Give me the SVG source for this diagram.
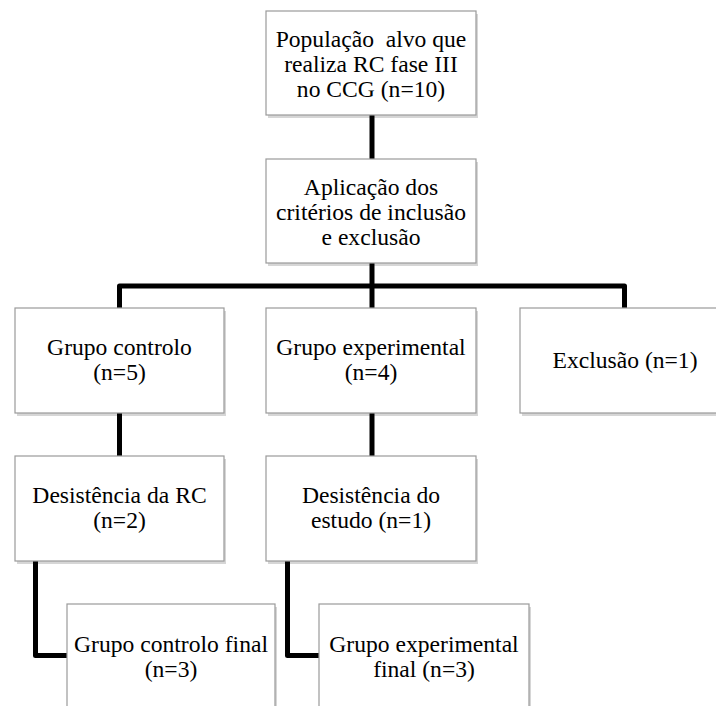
<svg xmlns="http://www.w3.org/2000/svg" width="716" height="706" viewBox="0 0 716 706">
<style>
.sh{fill:#000;fill-opacity:0.16}
.box{fill:#ffffff;stroke:#9a9a9a;stroke-width:1.2}
.c{fill:none;stroke:#000;stroke-width:5;stroke-linejoin:round}
</style>
<rect width="716" height="706" fill="#fff"/>
<g id="connectors">
<path class="c" d="M372,115 V159"/>
<path class="c" d="M372,263 V308"/>
<path class="c" d="M119.5,308 V286 H624.5 V308"/>
<path class="c" d="M119.5,413 V456"/>
<path class="c" d="M372,413 V456"/>
<path class="c" d="M35.5,561 V655.5 H67"/>
<path class="c" d="M287.5,561 V655.5 H319"/>
</g>
<g id="n1"><rect class="sh" x="268" y="14" width="210" height="104"/><rect class="box" x="266" y="11" width="210" height="104"/>
<text x="371" y="47" font-family="Liberation Serif" font-size="23.6" text-anchor="middle" xml:space="preserve">População  alvo que</text>
<text x="371" y="72" font-family="Liberation Serif" font-size="23.6" text-anchor="middle">realiza RC fase III</text>
<text x="371" y="97" font-family="Liberation Serif" font-size="23.6" text-anchor="middle">no CCG (n=10)</text></g>
<g id="n2"><rect class="sh" x="268" y="162" width="210" height="104"/><rect class="box" x="266" y="159" width="210" height="104"/>
<text x="371" y="195" font-family="Liberation Serif" font-size="23.6" text-anchor="middle">Aplicação dos</text>
<text x="371" y="220" font-family="Liberation Serif" font-size="23.6" text-anchor="middle">critérios de inclusão</text>
<text x="371" y="245" font-family="Liberation Serif" font-size="23.6" text-anchor="middle">e exclusão</text></g>
<g id="n3"><rect class="sh" x="17" y="311" width="209" height="105"/><rect class="box" x="15" y="308" width="209" height="105"/>
<text x="119.5" y="355" font-family="Liberation Serif" font-size="23.6" text-anchor="middle">Grupo controlo</text>
<text x="119.5" y="380" font-family="Liberation Serif" font-size="23.6" text-anchor="middle">(n=5)</text></g>
<g id="n4"><rect class="sh" x="268" y="311" width="210" height="105"/><rect class="box" x="266" y="308" width="210" height="105"/>
<text x="371" y="355" font-family="Liberation Serif" font-size="23.6" text-anchor="middle">Grupo experimental</text>
<text x="371" y="380" font-family="Liberation Serif" font-size="23.6" text-anchor="middle">(n=4)</text></g>
<g id="n5"><rect class="sh" x="522" y="311" width="210" height="105"/><rect class="box" x="520" y="308" width="210" height="105"/>
<text x="625" y="368" font-family="Liberation Serif" font-size="23.6" text-anchor="middle">Exclusão (n=1)</text></g>
<g id="n6"><rect class="sh" x="17" y="459" width="209" height="105"/><rect class="box" x="15" y="456" width="209" height="105"/>
<text x="119.5" y="503" font-family="Liberation Serif" font-size="23.6" text-anchor="middle">Desistência da RC</text>
<text x="119.5" y="528" font-family="Liberation Serif" font-size="23.6" text-anchor="middle">(n=2)</text></g>
<g id="n7"><rect class="sh" x="268" y="459" width="210" height="105"/><rect class="box" x="266" y="456" width="210" height="105"/>
<text x="371" y="503" font-family="Liberation Serif" font-size="23.6" text-anchor="middle">Desistência do</text>
<text x="371" y="528" font-family="Liberation Serif" font-size="23.6" text-anchor="middle">estudo (n=1)</text></g>
<g id="n8"><rect class="sh" x="69" y="607" width="208" height="120"/><rect class="box" x="67" y="604" width="208" height="120"/>
<text x="171" y="652" font-family="Liberation Serif" font-size="23.6" text-anchor="middle">Grupo controlo final</text>
<text x="171" y="677" font-family="Liberation Serif" font-size="23.6" text-anchor="middle">(n=3)</text></g>
<g id="n9"><rect class="sh" x="321" y="607" width="210" height="120"/><rect class="box" x="319" y="604" width="210" height="120"/>
<text x="424" y="652" font-family="Liberation Serif" font-size="23.6" text-anchor="middle">Grupo experimental</text>
<text x="424" y="677" font-family="Liberation Serif" font-size="23.6" text-anchor="middle">final (n=3)</text></g>
</svg>
